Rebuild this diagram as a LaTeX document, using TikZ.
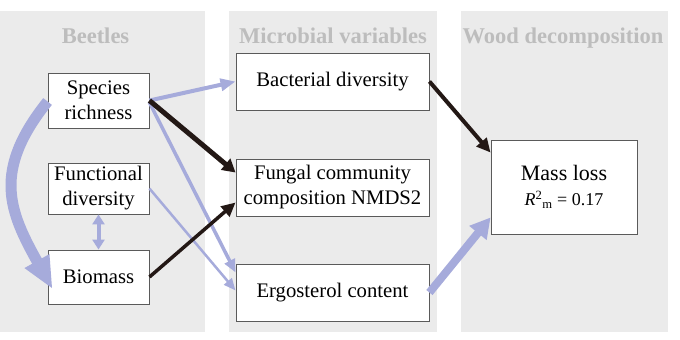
\documentclass[tikz,border=0pt]{standalone}
\usepackage{fontspec}
\setmainfont{Liberation Serif}
\usetikzlibrary{arrows.meta,calc}
\definecolor{panel}{HTML}{EBEBEB}
\definecolor{ttl}{HTML}{BDBDBD}
\definecolor{lb}{HTML}{A6ABDB}
\definecolor{dk}{HTML}{231815}
\definecolor{bx}{HTML}{5A5A5A}
\tikzset{
  box/.style={draw=bx, fill=white, line width=0.9pt, inner sep=0pt, align=center,
    font=\fontsize{20.7}{25}\selectfont},
  ttlnode/.style={anchor=base, inner sep=0pt, text=ttl,
    font=\fontsize{22.5}{26}\selectfont\bfseries},
  blue/.style={draw=lb},
  dark/.style={draw=dk}
}
\begin{document}
\begin{tikzpicture}[x=1pt,y=-1pt]
\useasboundingbox (0,0) rectangle (680,340);
% panels
\fill[panel] (0,11) rectangle (205,332);
\fill[panel] (229,11) rectangle (437,332);
\fill[panel] (461,11) rectangle (668,332);
% titles
\node[ttlnode] (t1) at (95.5,43) {Beetles};
\node[ttlnode] (t2) at (333,43) {Microbial variables};
\node[ttlnode] (t3) at (563,43) {Wood decomposition};
% boxes
\node[box, minimum width=101pt, minimum height=55pt] (sr) at (98.5,100.5) {Species\\richness};
\node[box, minimum width=101pt, minimum height=51pt] (fd) at (98.5,188.5) {Functional\\diversity};
\node[box, minimum width=101pt, minimum height=54pt] (bm) at (98.5,277) {Biomass};
\node[box, minimum width=193pt, minimum height=57pt] (bd) at (332.5,81.5) {Bacterial diversity};
\node[box, minimum width=193pt, minimum height=57pt] (fc) at (332.5,187.5) {Fungal community\\composition NMDS2};
\node[box, minimum width=193pt, minimum height=57pt] (er) at (332.5,292.5) {Ergosterol content};
\node[box, minimum width=146pt, minimum height=94pt] (ml) at (564,187)
  {{\fontsize{22}{25}\selectfont Mass loss}\\{\fontsize{18}{25}\selectfont\textit{R}\textsuperscript{2}\textsubscript{m} = 0.17}};
% blue connectors
\draw[blue, line width=4pt, -{Triangle[length=15pt,width=12pt]}] (sr.east) -- (bd.west);
\draw[blue, line width=3.5pt, -{Triangle[length=13pt,width=11pt]}] ([yshift=-2pt]sr.east) -- ([yshift=20pt]er.west);
\draw[blue, line width=2.5pt, -{Triangle[length=12pt,width=10pt]}] (fd.east) -- ([yshift=2pt]er.west);
\draw[blue, line width=4pt, {Triangle[length=10pt,width=12pt]}-{Triangle[length=10pt,width=12pt]}] (fd.south) -- (bm.north);
\draw[blue, line width=8pt, -{Triangle[length=20pt,width=21pt]}] (er.east) -- ([yshift=17pt]ml.south west);
\draw[blue, line width=11pt, -{Triangle[length=32pt,width=26pt]}] ([yshift=-1pt]sr.west) .. controls (-8,171) and (9,211) .. ([xshift=5pt,yshift=-12pt]bm.west);
% dark connectors
\draw[dark, line width=5pt, -{Triangle[length=13pt,width=14pt]}] (sr.east) -- ([yshift=15pt]fc.west);
\draw[dark, line width=3.5pt, -{Triangle[length=14pt,width=13pt]}] (bm.east) -- ([yshift=-15pt]fc.west);
\draw[dark, line width=4pt, -{Triangle[length=14pt,width=13pt]}] (bd.east) -- ([yshift=-13pt]ml.north west);
\end{tikzpicture}
\end{document}
